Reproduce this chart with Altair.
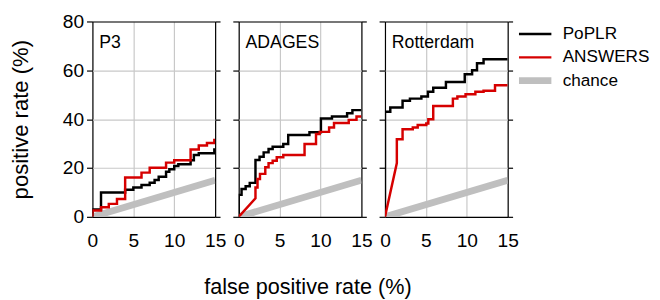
import altair as alt
import pandas as pd

FONT = "Liberation Sans"

panels = ["P3", "ADAGES", "Rotterdam"]
series_names = ["PoPLR", "ANSWERS", "chance"]
series_colors = ["#000000", "#d60000", "#bfbfbf"]
series_widths = [2.5, 2.5, 7]

# ROC vertices: false positive rate (%), positive rate (%)
p3_poplr_x = [0, 0, 1.05, 1.05, 4, 4, 5, 5, 6, 6, 7, 7, 7.6, 7.6, 8.1, 8.1, 9, 9, 9.4, 9.4,
              10, 10, 10.5, 10.5, 12, 12, 12.4, 12.4, 13, 13, 14.9, 14.9, 15]
p3_poplr_y = [0, 3, 3, 10, 10, 11.1, 11.1, 12, 12, 13, 13, 14, 14, 15.1, 15.1, 16.4, 16.4, 18.5, 18.5, 19.5,
              19.5, 20.8, 20.8, 21.5, 21.5, 23.2, 23.2, 25.3, 25.3, 26, 26, 27.6, 27.6]
p3_answers_x = [0, 0, 1.05, 1.05, 2, 2, 3, 3, 4, 4, 6, 6, 7, 7, 9, 9, 10, 10, 12, 12, 13, 13,
                14, 14, 14.9, 14.9, 15]
p3_answers_y = [0, 2.6, 2.6, 3.9, 3.9, 5.3, 5.3, 7.3, 7.3, 16.1, 16.1, 18.1, 18.1, 20.1, 20.1, 22.2,
                22.2, 23.2, 23.2, 27.6, 27.6, 29.2, 29.2, 30.2, 30.2, 31.5, 31.5]

ad_poplr_x = [0, 0, 0.35, 0.35, 0.85, 0.85, 1.35, 1.35, 2.05, 2.05, 2.55, 2.55, 3.05, 3.05, 3.65, 3.65,
              4.15, 4.15, 5.45, 5.45, 6.05, 6.05, 8.65, 8.65, 10.05, 10.05, 11.4, 11.4, 13.25, 13.25,
              13.9, 13.9, 15]
ad_poplr_y = [0, 9, 9, 11.4, 11.4, 12.5, 12.5, 13.9, 13.9, 23.3, 23.3, 24.6, 24.6, 26.4, 26.4, 27.8,
              27.8, 28.7, 28.7, 29.8, 29.8, 33.5, 33.5, 34.6, 34.6, 40.3, 40.3, 41.1, 41.1, 42.4,
              42.4, 43.7, 43.7]
ad_answers_x = [0, 2.05, 2.05, 2.3, 2.3, 2.6, 2.6, 3.25, 3.25, 3.65, 3.65, 4.15, 4.15, 4.65, 4.65,
                5.45, 5.45, 8.05, 8.05, 9.45, 9.45, 9.9, 9.9, 11.05, 11.05, 11.65, 11.65, 13.45, 13.45,
                14.4, 14.4, 15]
ad_answers_y = [0, 7.6, 12, 12, 15.5, 15.5, 17.6, 17.6, 20.3, 20.3, 22, 22, 23, 23, 24.4,
                24.4, 25.3, 25.3, 29.8, 29.8, 33.9, 33.9, 34.8, 34.8, 36.6, 36.6, 38.4, 38.4, 39.7,
                39.7, 41.1, 41.1]

ro_poplr_x = [0, 0, 0.65, 0.65, 2.15, 2.15, 3.05, 3.05, 4.45, 4.45, 5.25, 5.25, 5.9, 5.9, 7.45, 7.45,
              9.75, 9.75, 10.65, 10.65, 11.25, 11.25, 12.05, 12.05, 15]
ro_poplr_y = [0, 43, 43, 44.8, 44.8, 47.5, 47.5, 48.4, 48.4, 49.3, 49.3, 51.2, 51.2, 52.9, 52.9, 55.2,
              55.2, 58.4, 58.4, 60, 60, 62.9, 62.9, 64.5, 64.5]
ro_answers_x = [0, 1.45, 1.45, 2.15, 2.15, 3.4, 3.4, 4, 4, 5.05, 5.05, 5.3, 5.3, 5.9, 5.9, 8.3, 8.3,
                8.85, 8.85, 9.85, 9.85, 11.05, 11.05, 12.05, 12.05, 13.45, 13.45, 15]
ro_answers_y = [0, 22, 31.8, 31.8, 35.9, 35.9, 36.6, 36.6, 37.6, 37.6, 38.2, 38.2, 40, 40, 45.4, 45.4,
                48.4, 48.4, 49.3, 49.3, 50.2, 50.2, 51.2, 51.2, 51.6, 51.6, 53.9, 53.9]

chance_x = [0, 15]
chance_y = [0, 15]

curves = {
    "P3": {"PoPLR": (p3_poplr_x, p3_poplr_y), "ANSWERS": (p3_answers_x, p3_answers_y)},
    "ADAGES": {"PoPLR": (ad_poplr_x, ad_poplr_y), "ANSWERS": (ad_answers_x, ad_answers_y)},
    "Rotterdam": {"PoPLR": (ro_poplr_x, ro_poplr_y), "ANSWERS": (ro_answers_x, ro_answers_y)},
}

rows = []
for p in panels:
    for s in series_names:
        xs, ys = (chance_x, chance_y) if s == "chance" else curves[p][s]
        for i, (xv, yv) in enumerate(zip(xs, ys)):
            rows.append({"panel": p, "series": s, "fpr": xv, "tpr": yv, "order": i})
df = pd.DataFrame(rows)

color_scale = alt.Scale(domain=series_names, range=series_colors)
width_scale = alt.Scale(type="ordinal", domain=series_names, range=series_widths)
legend = alt.Legend(title=None, symbolType="stroke", symbolSize=1089, labelFontSize=17.5,
                    labelFont=FONT, labelOffset=8, clipHeight=21.7, rowPadding=1.7,
                    padding=2, offset=-6, symbolOpacity=1, labelColor="black")

xscale = alt.Scale(domain=[0, 15], nice=False, zero=False)
yscale = alt.Scale(domain=[0, 80], nice=False)

x_grid_color = {"condition": {"test": "datum.value == 0 || datum.value == 15", "value": "black"},
                "value": "#c8c8c8"}
y_grid_color = {"condition": {"test": "datum.value == 0 || datum.value == 80", "value": "black"},
                "value": "#c8c8c8"}


def make_panel(name, first, middle):
    d = df[df.panel == name]
    xaxis_kw = dict(values=[0, 5, 10, 15], ticks=False, domain=False, labelFontSize=19.5, labelFont=FONT,
                    labelPadding=15, labelFlush=False, labelOverlap=False, labelBound=False,
                    gridColor=x_grid_color, gridWidth=1.2, labelColor="black")
    if middle:
        xaxis = alt.Axis(title="false positive rate (%)", titleFontSize=22, titleFont=FONT,
                         titleFontWeight="normal", titlePadding=28, titleColor="black",
                         titleX=70, titleAlign="center", **xaxis_kw)
    else:
        xaxis = alt.Axis(title=None, **xaxis_kw)
    yaxis_kw = dict(values=[0, 20, 40, 60, 80], domain=False, tickSize=6, tickColor="black",
                    tickWidth=1.2, labelFontSize=19.5, labelFont=FONT, labelPadding=3,
                    labelFlush=False, labelColor="black", gridColor=y_grid_color, gridWidth=1.2)
    if first:
        yleft = alt.Axis(orient="left", title="positive rate (%)", titleFontSize=22.5, titleFont=FONT,
                         titleFontWeight="normal", titlePadding=30, titleColor="black", **yaxis_kw)
    else:
        yleft = alt.Axis(orient="left", title=None, labels=False, **yaxis_kw)
    yright = alt.Axis(orient="right", title=None, labels=False, grid=False,
                      values=[0, 20, 40, 60, 80], domain=False, tickSize=5,
                      tickColor="black", tickWidth=1.2)

    layers = []
    for s in ["chance", "PoPLR", "ANSWERS"]:
        layers.append(
            alt.Chart(d[d.series == s]).mark_line(clip=True, strokeCap="butt", strokeJoin="miter").encode(
                x=alt.X("fpr:Q", scale=xscale, axis=xaxis),
                y=alt.Y("tpr:Q", scale=yscale, axis=yleft if s == "chance" else None),
                color=alt.Color("series:N", scale=color_scale, legend=legend),
                strokeWidth=alt.StrokeWidth("series:N", scale=width_scale, legend=legend),
                order="order:Q",
            )
        )
    # right-side ticks
    layers.append(
        alt.Chart(d[d.series == "chance"]).mark_line(opacity=0).encode(
            x=alt.X("fpr:Q", scale=xscale, axis=xaxis),
            y=alt.Y("tpr:Q", scale=yscale, axis=yright),
        )
    )
    lab = pd.DataFrame({"label": [name]})
    layers.append(
        alt.Chart(lab).mark_text(align="left", baseline="alphabetic", fontSize=18, font=FONT,
                                 color="black").encode(
            x=alt.value(7), y=alt.value(27), text="label:N")
    )
    return alt.layer(*layers).resolve_axis(y="independent").properties(width=125, height=199)


chart = alt.hconcat(
    make_panel("P3", True, False),
    make_panel("ADAGES", False, True),
    make_panel("Rotterdam", False, False),
    spacing=24,
    bounds="flush",
).properties(
    padding={"left": 1, "top": 0, "right": 0, "bottom": 0}
).configure_view(stroke="black", strokeWidth=1.2).configure(font=FONT)

chart.save("out.html", embed_options={"renderer": "svg", "actions": False})
